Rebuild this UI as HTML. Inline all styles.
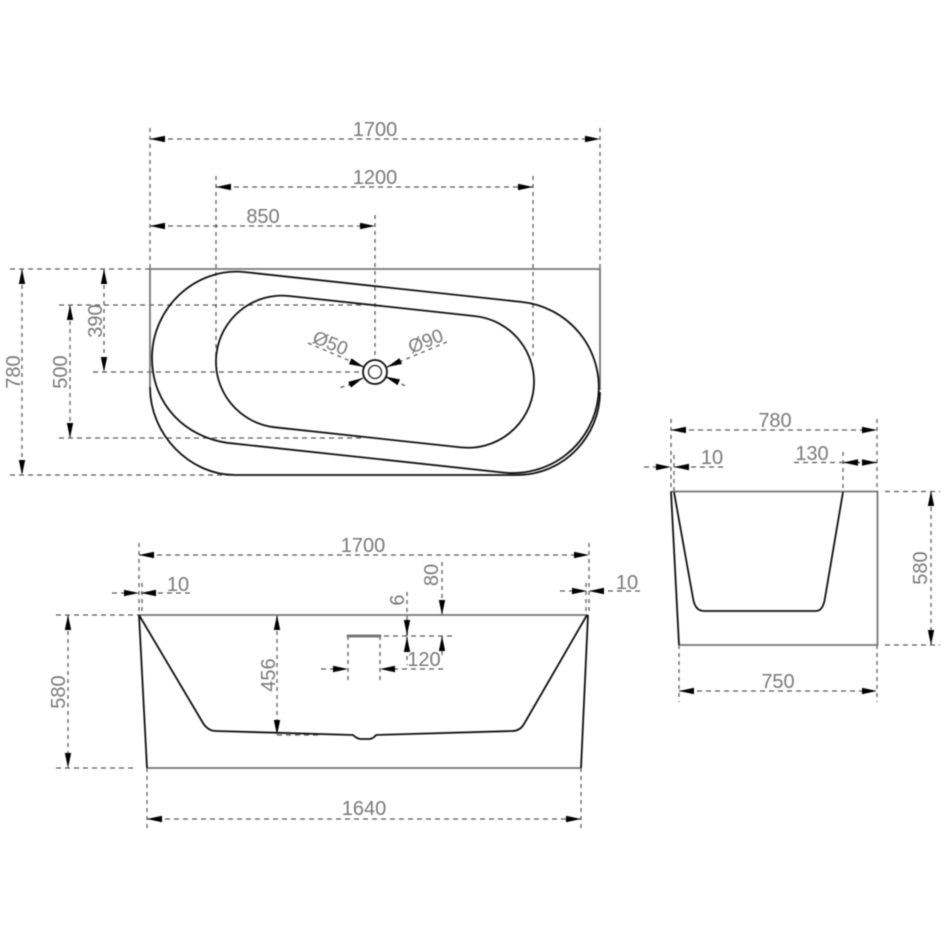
<!DOCTYPE html>
<html>
<head>
<meta charset="utf-8">
<style>
html,body{margin:0;padding:0;background:#fff;width:950px;height:950px;overflow:hidden}
svg{display:block;filter:blur(0.4px)}
text{font-family:"Liberation Sans",sans-serif;font-size:20px;fill:#7a7a7a;text-anchor:middle}
.d{stroke:#5a5a5a;stroke-width:1.3;stroke-dasharray:5 4;fill:none}
.e{stroke:#6a6a6a;stroke-width:1.4;stroke-dasharray:4 4;fill:none}
.k{stroke:#111;stroke-width:1.8;fill:none;stroke-linejoin:round}
.g{stroke:#777;stroke-width:1.8;fill:none}
.s{stroke:#222;stroke-width:1.3;fill:none}
</style>
</head>
<body>
<svg width="950" height="950" viewBox="0 0 950 950" xmlns="http://www.w3.org/2000/svg">
<defs>
<marker id="a" viewBox="0 0 15 7" refX="15" refY="3.5" markerUnits="userSpaceOnUse" markerWidth="15" markerHeight="7" orient="auto-start-reverse">
<path d="M15,3.5 L0,0.3 L0,6.7 Z" fill="#000"/>
</marker>
</defs>

<!-- Plan view: extension lines -->
<path class="e" d="M150,128V269M600,128V269M216,176V360M533,176V360M375,215V360"/>
<path class="d" d="M10,269H150M10,475H232M93,372H362M59,305H362M59,438H362"/>

<!-- Plan view: dimensions -->
<line class="d" x1="150" y1="139" x2="600" y2="139" marker-start="url(#a)" marker-end="url(#a)"/>
<line class="d" x1="216" y1="187" x2="533" y2="187" marker-start="url(#a)" marker-end="url(#a)"/>
<line class="d" x1="150" y1="226" x2="375" y2="226" marker-start="url(#a)" marker-end="url(#a)"/>
<line class="e" x1="22" y1="269" x2="22" y2="475" marker-start="url(#a)" marker-end="url(#a)"/>
<line class="e" x1="104" y1="269" x2="104" y2="372" marker-start="url(#a)" marker-end="url(#a)"/>
<line class="e" x1="70" y1="305" x2="70" y2="438" marker-start="url(#a)" marker-end="url(#a)"/>

<!-- Plan view: outline -->
<path class="g" d="M150,387V269H600V390"/>
<path class="k" d="M150,387C150,435 190,475 235,475H517C565,475 600,435 600,392"/>
<path class="k" d="M245,272.1L522,302A85.7,85.7 0 0 1 504,472.6L227,442.8C186,437 152,405 152,358C152,308 195,267 245,272.1Z"/>
<path class="k" d="M289,296L475,316.1A66,66 0 0 1 461,447.4L275,427.3A66,66 0 0 1 289,296Z"/>
<circle class="k" cx="375" cy="372" r="12"/>
<circle class="s" cx="375" cy="372" r="6.5"/>

<!-- Drain leaders -->
<path class="e" d="M308,343L356,363.5M394,381L406,386M447,342L399,362M352,384L339,388"/>
<line class="s" x1="352" y1="362" x2="364" y2="367" marker-end="url(#a)"/>
<line class="s" x1="398" y1="382" x2="385" y2="376.5" marker-end="url(#a)"/>
<line class="s" x1="401" y1="361" x2="387" y2="367" marker-end="url(#a)"/>
<line class="s" x1="349" y1="385" x2="363" y2="378" marker-end="url(#a)"/>

<!-- Plan view: labels -->
<text x="375" y="136">1700</text>
<text x="375" y="184">1200</text>
<text x="263" y="223">850</text>
<text transform="translate(20,372) rotate(-90)">780</text>
<text transform="translate(67,372) rotate(-90)">500</text>
<text transform="translate(102,321) rotate(-90)">390</text>
<text transform="translate(328,349) rotate(22)" style="font-size:19px">Ø50</text>
<text transform="translate(428,347) rotate(-22)" style="font-size:19px">Ø90</text>

<!-- Front view: extension lines -->
<path class="e" d="M139,543V615M142,583V615M589,543V615M586,583V615M147,768V830M581,768V830M407,592V665M348,636V681M380,636V681"/>
<path class="d" d="M56,615H139M56,768H135M384,636H453M277,735H322"/>

<!-- Front view: dimensions -->
<line class="d" x1="139" y1="555" x2="589" y2="555" marker-start="url(#a)" marker-end="url(#a)"/>
<line class="d" x1="147" y1="819" x2="581" y2="819" marker-start="url(#a)" marker-end="url(#a)"/>
<line class="e" x1="68" y1="615" x2="68" y2="768" marker-start="url(#a)" marker-end="url(#a)"/>
<line class="e" x1="277" y1="615" x2="277" y2="735" marker-start="url(#a)" marker-end="url(#a)"/>
<line class="d" x1="112" y1="593" x2="139" y2="593" marker-end="url(#a)"/>
<line class="d" x1="190" y1="593" x2="141" y2="593" marker-end="url(#a)"/>
<line class="d" x1="560" y1="591" x2="587" y2="591" marker-end="url(#a)"/>
<line class="d" x1="640" y1="591" x2="589" y2="591" marker-end="url(#a)"/>
<line class="e" x1="442" y1="562" x2="442" y2="615" marker-end="url(#a)"/>
<line class="e" x1="442" y1="655" x2="442" y2="636" marker-end="url(#a)"/>
<line class="s" x1="407" y1="621" x2="407" y2="635" marker-end="url(#a)"/>
<line class="s" x1="407" y1="651" x2="407" y2="637" marker-end="url(#a)"/>
<line class="d" x1="321" y1="669" x2="348" y2="669" marker-end="url(#a)"/>
<line class="d" x1="443" y1="669" x2="380" y2="669" marker-end="url(#a)"/>

<!-- Front view: outline -->
<path class="g" d="M139,615H588M147,768H581"/>
<path class="k" d="M139,615L147,768M588,615L581,768"/>
<path class="k" d="M139,615L203,723Q208,731 216,731L353,735Q356,738 360,739L370,739Q374,738 376,735L512,731Q520,731 524,724L587,615"/>
<path d="M348,636H380" stroke="#777" stroke-width="3" stroke-linecap="round" fill="none"/>

<!-- Front view: labels -->
<text x="363" y="552">1700</text>
<text x="364" y="815">1640</text>
<text x="178" y="591">10</text>
<text x="627" y="589">10</text>
<text x="424" y="666">120</text>
<text transform="translate(65,692) rotate(-90)">580</text>
<text transform="translate(275,675) rotate(-90)">456</text>
<text transform="translate(404,600) rotate(-90)">6</text>
<text transform="translate(438,575) rotate(-90)">80</text>

<!-- Side view: extension lines -->
<path class="e" d="M671,419V491M674,455V491M877,419V491M843,452V491M679,645V702M877,645V702"/>
<path class="d" d="M885,491.5H940M885,645H940"/>

<!-- Side view: dimensions -->
<line class="d" x1="671" y1="430" x2="877" y2="430" marker-start="url(#a)" marker-end="url(#a)"/>
<line class="d" x1="679" y1="691" x2="877" y2="691" marker-start="url(#a)" marker-end="url(#a)"/>
<line class="e" x1="931" y1="491" x2="931" y2="645" marker-start="url(#a)" marker-end="url(#a)"/>
<line class="d" x1="794" y1="462.5" x2="843" y2="462.5"/>
<line class="s" x1="860" y1="462.5" x2="843" y2="462.5" marker-end="url(#a)"/>
<line class="s" x1="862" y1="462.5" x2="877" y2="462.5" marker-end="url(#a)"/>
<line class="d" x1="644" y1="467" x2="671" y2="467" marker-end="url(#a)"/>
<line class="d" x1="723" y1="467" x2="674" y2="467" marker-end="url(#a)"/>

<!-- Side view: outline -->
<path class="g" d="M671,491.5H877.5V645H679"/>
<path class="k" d="M671,491.5L679,645"/>
<path class="k" d="M674,492L693,598Q695,611 704,611H816Q823,611 825,598L843,492"/>

<!-- Side view: labels -->
<text x="775" y="427">780</text>
<text x="712" y="464">10</text>
<text x="812" y="460">130</text>
<text x="778" y="688">750</text>
<text transform="translate(927,568) rotate(-90)">580</text>
</svg>
</body>
</html>
